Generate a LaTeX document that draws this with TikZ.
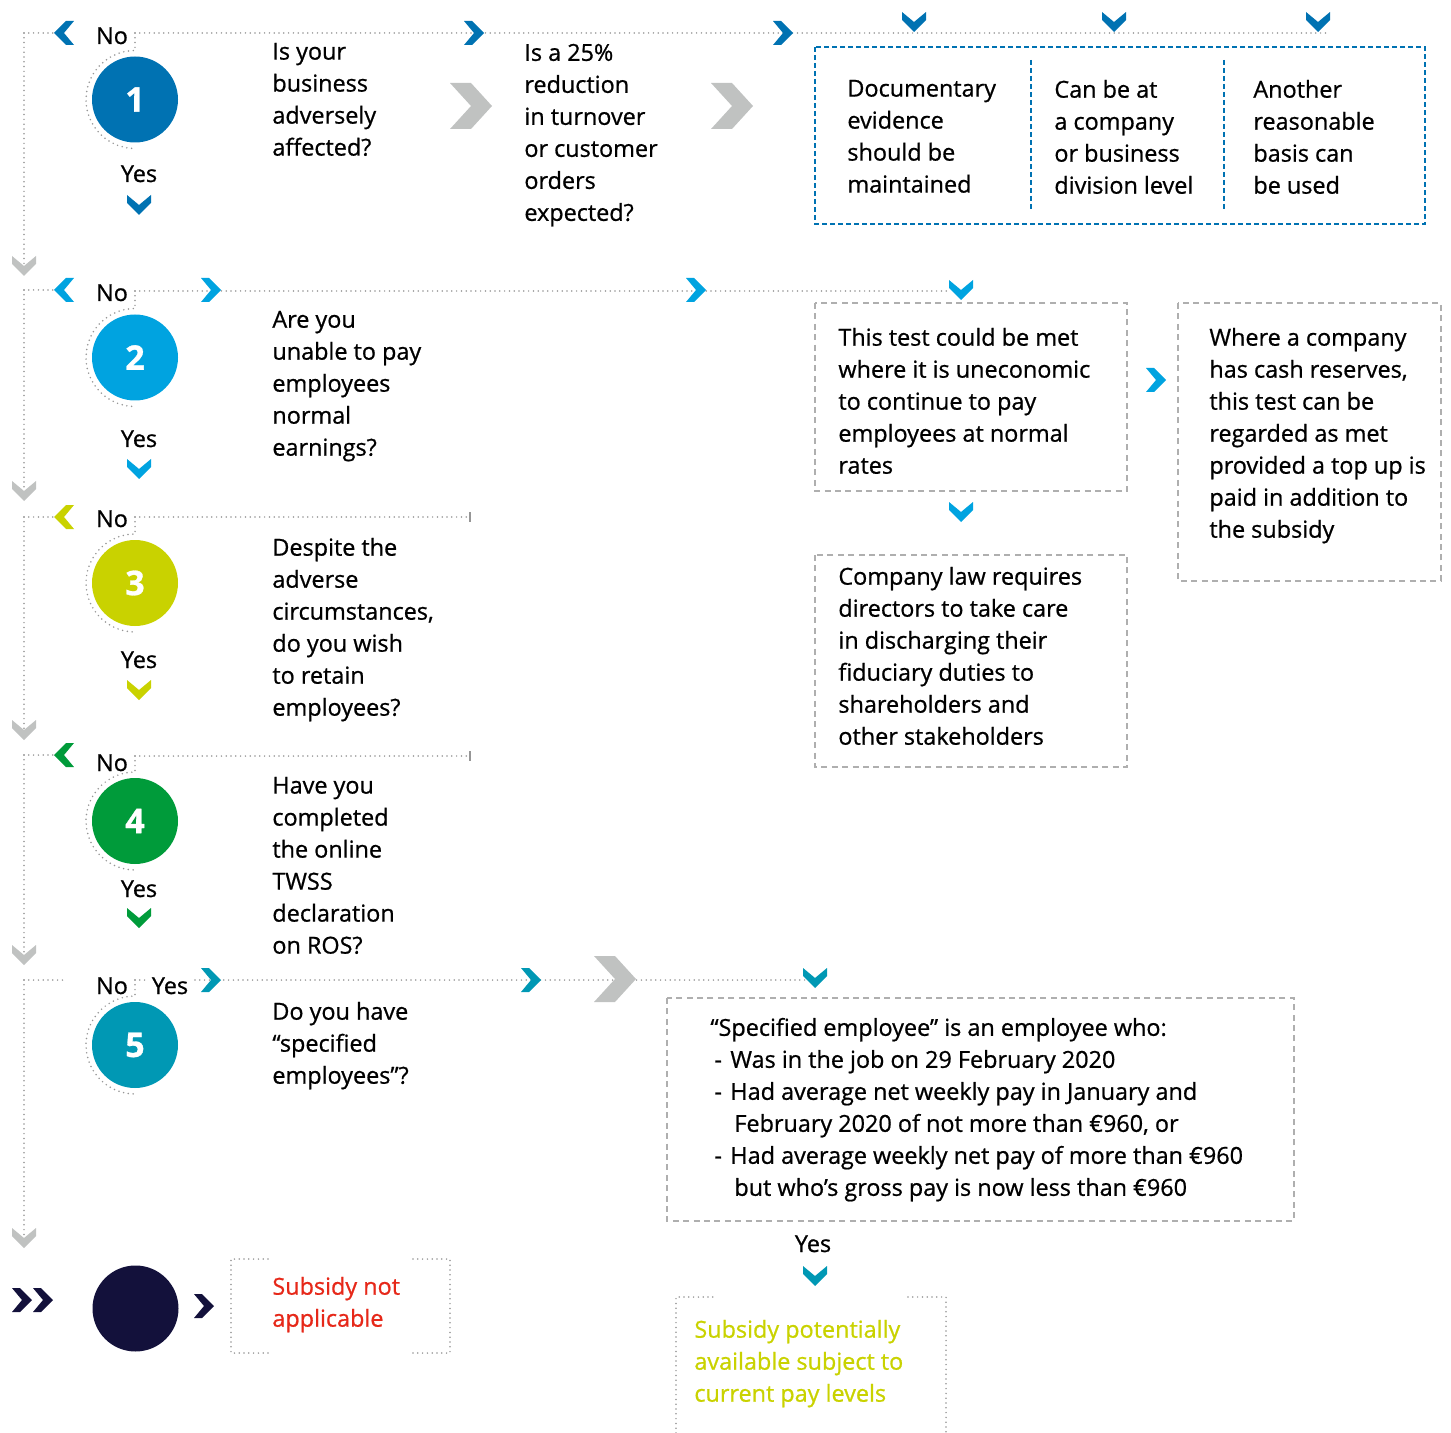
\documentclass[tikz,border=0pt]{standalone}
\usepackage{fontspec}
\setmainfont{Open Sans}[FakeBold=0.8]
\definecolor{blueA}{RGB}{0,114,178}
\definecolor{blueB}{RGB}{0,163,224}
\definecolor{limeC}{RGB}{201,210,0}
\definecolor{greenD}{RGB}{0,155,58}
\definecolor{tealE}{RGB}{0,152,180}
\definecolor{navyF}{RGB}{19,17,59}
\definecolor{redT}{RGB}{230,40,25}
\definecolor{chevgray}{RGB}{192,194,193}
\definecolor{dotgray}{RGB}{150,150,150}
\definecolor{dashgray}{RGB}{175,175,175}
\tikzset{
  dotline/.style={draw=dotgray, line width=0.85pt, line cap=round, dash pattern=on 0pt off 2.4pt},
  graybox/.style={draw=dashgray, line width=0.8pt, dash pattern=on 3pt off 2.2pt},
  bluebox/.style={draw=blueA, line width=0.9pt, dash pattern=on 2.4pt off 1.6pt},
  txt/.style={anchor=north west, inner sep=0pt, align=left, font=\fontsize{11.7}{16}\selectfont, text=black, execute at begin node={\strut}},
  lbl/.style={anchor=base, inner sep=0pt, font=\fontsize{11.7}{16}\selectfont},
  num/.style={circle, minimum size=43pt, inner sep=0pt, text=white, font=\fontsize{17}{20}\selectfont\bfseries},
  chevD/.pic={\fill[#1] (-12,-10)--(0,0)--(12,-10)--(12,-2)--(0,10)--(-12,-2)--cycle;},
  chevR/.pic={\fill[#1] (-10,-12)--(0,0)--(-10,12)--(-2,12)--(10,0)--(-2,-12)--cycle;},
  chevL/.pic={\fill[#1] (10,-12)--(0,0)--(10,12)--(2,12)--(-10,0)--(2,-12)--cycle;},
  bigR/.pic={\fill[chevgray] (-22,-23)--(-1,-23)--(20,0)--(-1,23)--(-22,23)--(-1,0)--cycle;}
}
\begin{document}
\begin{tikzpicture}[x=0.5pt,y=-0.5pt]
\useasboundingbox (0,0) rectangle (1451,1433);

% ---------- coordinates ----------
\coordinate (L1) at (24,33);   \coordinate (L2) at (24,290);
\coordinate (L3) at (24,517);  \coordinate (L4) at (24,755);
\coordinate (L5) at (24,980);
\coordinate (G1) at (24,266);  \coordinate (G2) at (24,491);
\coordinate (G3) at (24,730);  \coordinate (G4) at (24,955);
\coordinate (G5) at (24,1238);

% ---------- circles ----------
\node[num,fill=blueA]  (c1) at (135,99.5) {1};
\node[num,fill=blueB]  (c2) at (135,357.5) {2};
\node[num,fill=limeC]  (c3) at (135,583) {3};
\node[num,fill=greenD] (c4) at (135,821) {4};
\node[num,fill=tealE]  (c5) at (135,1045) {5};
\node[num,fill=navyF]  (c6) at (135.5,1308.5) {};

% ---------- left spine ----------
\draw[dotline] (L1) -- (53,33);   \draw[dotline] (L1) -- (G1);
\draw[dotline] (L2) -- (53,290);  \draw[dotline] (L2) -- (G2);
\draw[dotline] (L3) -- (53,517);  \draw[dotline] (L3) -- (G3);
\draw[dotline] (L4) -- (53,755);  \draw[dotline] (L4) -- (G4);
\draw[dotline] (L5) -- (66,980);  \draw[dotline] (L5) -- (G5);

% ---------- No branches ----------
\draw[dotline] (135,33) -- (1326,33);
\draw[dotline] (135,33) -- ([yshift=24.5pt]c1.center) arc[start angle=270,end angle=90,radius=49];
\draw[dotline] (135,291) -- (950,291);
\draw[dotline] (135,291) -- ([yshift=24.5pt]c2.center) arc[start angle=270,end angle=90,radius=49];
\draw[dotline] (135,517) -- (468,517);
\draw[dotgray,line width=0.8pt] (470,512) -- (470,522);
\draw[dotline] (135,517) -- ([yshift=24.5pt]c3.center) arc[start angle=270,end angle=90,radius=49];
\draw[dotline] (135,756) -- (468,756);
\draw[dotgray,line width=0.8pt] (470,751) -- (470,761);
\draw[dotline] (135,756) -- ([yshift=24.5pt]c4.center) arc[start angle=270,end angle=90,radius=49];
\draw[dotline] (135,980) -- (148,980);
\draw[dotline] (195,980) -- (812,980);
\draw[dotline] (135,980) -- ([yshift=24.5pt]c5.center) arc[start angle=270,end angle=90,radius=49];

% ---------- chevrons ----------
\pic at (G1) {chevD=chevgray};
\pic at (G2) {chevD=chevgray};
\pic at (G3) {chevD=chevgray};
\pic at (G4) {chevD=chevgray};
\pic at (G5) {chevD=chevgray};

\pic at (64,33) {chevL=blueA};
\pic at (64,290) {chevL=blueB};
\pic at (64,517) {chevL=limeC};
\pic at (64,755) {chevL=greenD};

\pic at (139,205) {chevD=blueA};
\pic at (139,469) {chevD=blueB};
\pic at (139,690) {chevD=limeC};
\pic at (139,918) {chevD=greenD};

\pic at (474,33) {chevR=blueA};
\pic at (783,33) {chevR=blueA};
\pic at (914,22) {chevD=blueA};
\pic at (1114,22) {chevD=blueA};
\pic at (1318,22) {chevD=blueA};
\pic at (472,106) {bigR};
\pic at (733,106) {bigR};

\pic at (211,290) {chevR=blueB};
\pic at (696,290) {chevR=blueB};
\pic at (961,290) {chevD=blueB};
\pic at (1156,380) {chevR=blueB};
\pic at (961,512) {chevD=blueB};

\pic at (211,980) {chevR=tealE};
\pic at (531,980) {chevR=tealE};
\pic at (616,979) {bigR};
\pic at (815,978) {chevD=tealE};
\pic at (815,1276) {chevD=tealE};

\pic at (22,1300) {chevR=navyF};
\pic at (43,1300) {chevR=navyF};
\pic at (204,1306) {chevR=navyF};

% ---------- labels ----------
\node[lbl] (no1) at (112,44) {No};
\node[lbl] (no2) at (112,301) {No};
\node[lbl] (no3) at (112,527) {No};
\node[lbl] (no4) at (112,771) {No};
\node[lbl] (no5) at (112,994) {No};
\node[lbl] (yes1) at (139,182) {Yes};
\node[lbl] (yes2) at (139,447) {Yes};
\node[lbl] (yes3) at (139,668) {Yes};
\node[lbl] (yes4) at (139,897) {Yes};
\node[lbl] (yes5) at (170,994) {Yes};
\node[lbl] (yes6) at (813,1252) {Yes};

% ---------- questions ----------
\node[txt] (q1) at (272,42.5) {Is your\\business\\adversely\\affected?};
\node[txt] (q1a) at (524,43.5) {Is a 25\%\\reduction\\in turnover\\or customer\\orders\\expected?};
\node[txt] (q2) at (272,310.5) {Are you\\unable to pay\\employees\\normal\\earnings?};
\node[txt] (q3) at (272,537.5) {Despite the\\adverse\\circumstances,\\do you wish\\to retain\\employees?};
\node[txt] (q4) at (272,776.5) {Have you\\completed\\the online\\TWSS\\declaration\\on ROS?};
\node[txt] (q5) at (272,1001.5) {Do you have\\“specified\\employees”?};

% ---------- box 1 ----------
\draw[bluebox] (815,47) rectangle (1425,224);
\draw[bluebox] (1031,60) -- (1031,210);
\draw[bluebox] (1224,60) -- (1224,210);
\node[txt] (b1a) at (847,79.5) {Documentary\\evidence\\should be\\maintained};
\node[txt] (b1b) at (1054,79.5) {Can be at\\a company\\or business\\division level};
\node[txt] (b1c) at (1253,79.5) {Another\\reasonable\\basis can\\be used};

% ---------- box 2 ----------
\draw[graybox] (815,303) rectangle (1127,491);
\node[txt] (b2a) at (838,327.5) {This test could be met\\where it is uneconomic\\to continue to pay\\employees at normal\\rates};
\draw[graybox] (1178,303) rectangle (1441,581);
\node[txt] (b2b) at (1209,327.5) {Where a company\\has cash reserves,\\this test can be\\regarded as met\\provided a top up is\\paid in addition to\\the subsidy};
\draw[graybox] (815,555) rectangle (1127,767);
\node[txt] (b2c) at (838,566.5) {Company law requires\\directors to take care\\in discharging their\\fiduciary duties to\\shareholders and\\other stakeholders};

% ---------- box 5 ----------
\draw[graybox] (667,998) rectangle (1294,1221);
\node[txt] (b5) at (710,1017.5) {“Specified employee” is an employee who:\\
\hspace*{2pt}\makebox[8pt][l]{-}Was in the job on 29 February 2020\\
\hspace*{2pt}\makebox[8pt][l]{-}Had average net weekly pay in January and\\
\hspace*{12pt}February 2020 of not more than €960, or\\
\hspace*{2pt}\makebox[8pt][l]{-}Had average weekly net pay of more than €960\\
\hspace*{12pt}but who’s gross pay is now less than €960};

% ---------- outcomes ----------
\draw[dotline] (268,1259) -- (231,1259) -- (231,1353) -- (268,1353);
\draw[dotline] (413,1259) -- (450,1259) -- (450,1353) -- (413,1353);
\node[txt,text=redT] (na) at (272,1276.5) {Subsidy not\\applicable};
\draw[dotline] (676,1433) -- (676,1297) -- (713,1297);
\draw[dotline] (908,1297) -- (946,1297) -- (946,1433);
\node[txt,text=limeC] (av) at (694,1319.5) {Subsidy potentially\\available subject to\\current pay levels};
\end{tikzpicture}
\end{document}
